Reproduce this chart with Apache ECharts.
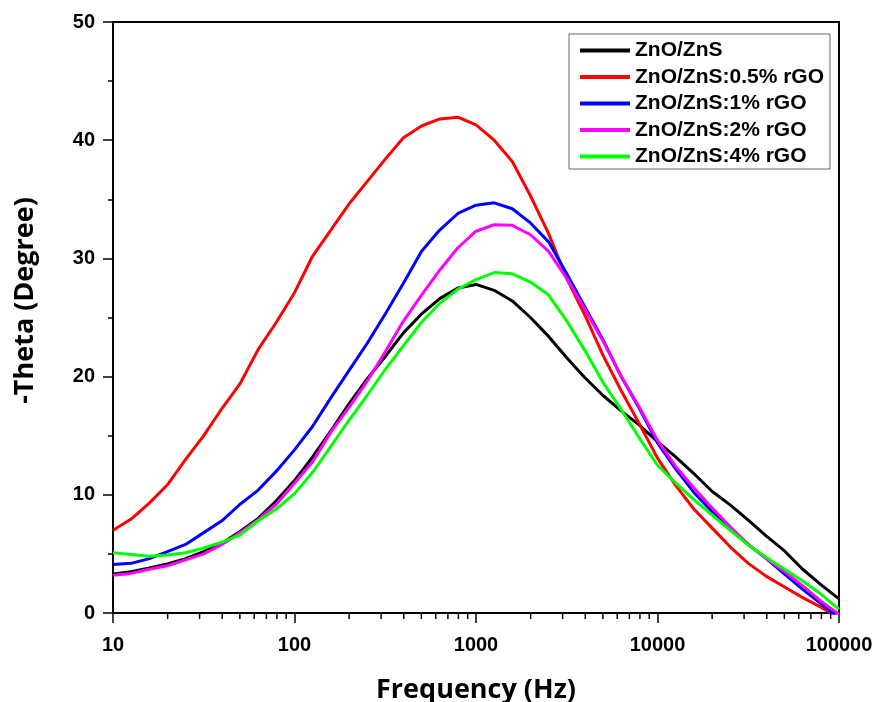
<!DOCTYPE html>
<html>
<head>
<meta charset="utf-8">
<script src="https://cdn.jsdelivr.net/npm/echarts@6/dist/echarts.min.js"></script>
<style>
html,body{margin:0;padding:0;background:#fff;}
#chart{width:877px;height:702px;}
</style>
</head>
<body>
<div id="chart"></div>
<script>
const seriesNames = ['ZnO/ZnS', 'ZnO/ZnS:0.5% rGO', 'ZnO/ZnS:1% rGO', 'ZnO/ZnS:2% rGO', 'ZnO/ZnS:4% rGO'];
const frequency = [10, 12.59, 15.85, 19.95, 25.12, 31.62, 39.81, 50.12, 63.1, 79.43,
  100, 125.9, 158.5, 199.5, 251.2, 316.2, 398.1, 501.2, 631, 794.3,
  1000, 1259, 1585, 1995, 2512, 3162, 3981, 5012, 6310, 7943,
  10000, 12589, 15849, 19953, 25119, 31623, 39811, 50119, 63096, 79433, 100000];
const znoZns = [3.3, 3.5, 3.8, 4.15, 4.6, 5.2, 5.9, 6.9, 8.0, 9.5,
  11.2, 13.2, 15.4, 17.7, 19.8, 21.7, 23.7, 25.3, 26.6, 27.5,
  27.8, 27.3, 26.4, 25.0, 23.4, 21.6, 19.9, 18.4, 17.1, 15.9,
  14.5, 13.2, 11.8, 10.3, 9.15, 7.85, 6.5, 5.25, 3.7, 2.4, 1.2];
const rgo05 = [7.0, 7.95, 9.3, 10.85, 13.0, 15.0, 17.3, 19.4, 22.3, 24.6,
  27.1, 30.2, 32.4, 34.6, 36.5, 38.4, 40.2, 41.2, 41.8, 41.95,
  41.3, 40.0, 38.2, 35.3, 32.1, 28.3, 25.2, 21.8, 18.8, 16.0,
  13.1, 10.8, 8.8, 7.2, 5.6, 4.2, 3.1, 2.2, 1.3, 0.5, -0.4];
const rgo1 = [4.1, 4.2, 4.6, 5.2, 5.8, 6.8, 7.8, 9.2, 10.4, 12.0,
  13.8, 15.8, 18.2, 20.5, 22.8, 25.3, 27.9, 30.6, 32.4, 33.8,
  34.5, 34.7, 34.2, 33.0, 31.4, 28.7, 25.9, 23.1, 20.0, 17.3,
  14.4, 12.2, 10.2, 8.6, 7.2, 5.8, 4.6, 3.3, 2.0, 0.8, -0.4];
const rgo2 = [3.2, 3.35, 3.7, 4.0, 4.5, 5.0, 5.8, 6.8, 7.9, 9.2,
  11.0, 12.8, 15.3, 17.4, 19.6, 22.1, 24.7, 26.9, 29.0, 30.9,
  32.3, 32.85, 32.8, 32.0, 30.6, 28.3, 25.7, 23.0, 20.0, 17.4,
  14.6, 12.4, 10.6, 8.9, 7.3, 5.8, 4.6, 3.5, 2.3, 1.0, -0.1];
const rgo4 = [5.1, 4.95, 4.8, 4.9, 5.1, 5.5, 6.0, 6.6, 7.8, 8.8,
  10.1, 11.9, 14.1, 16.3, 18.4, 20.6, 22.6, 24.6, 26.2, 27.4,
  28.2, 28.8, 28.7, 28.0, 26.9, 24.7, 22.2, 19.5, 17.2, 14.8,
  12.5, 11.0, 9.6, 8.3, 7.0, 5.75, 4.7, 3.7, 2.7, 1.6, 0.3];
const xTickLabels = ['10', '100', '1000', '10000', '100000'];
const yTickLabels = ['0', '10', '20', '30', '40', '50'];
const minorMultipliers = [2, 3, 4, 5, 6, 7, 8, 9];
const decades = [10, 100, 1000, 10000];

const allValues = [znoZns, rgo05, rgo1, rgo2, rgo4];
const colors = ['#000000', '#ff0000', '#0000ff', '#ff00ff', '#00ff00'];

const minorTickValues = [];
decades.forEach(function (d) { minorMultipliers.forEach(function (m) { minorTickValues.push(d * m); }); });

const labelFont = {color: '#000', fontWeight: 'bold', fontSize: 20, fontFamily: 'Liberation Sans, Arial, sans-serif'};
const titleFont = {color: '#000', fontWeight: 'bold', fontSize: 27, fontFamily: 'Open Sans, sans-serif'};

const chart = echarts.init(document.getElementById('chart'), null, {renderer: 'canvas'});
const lineSeries = seriesNames.map(function (name, i) {
  return {
    name: name, type: 'line', showSymbol: false, symbol: 'none', smooth: false,
    clip: true,
    lineStyle: {color: colors[i], width: 3},
    itemStyle: {color: colors[i]},
    data: frequency.map(function (f, j) { return [f, allValues[i][j]]; })
  };
});
lineSeries.push({
  name: 'minorTicks', type: 'scatter', clip: false, silent: true, z: 5,
  symbol: 'rect', symbolSize: [1.5, 6], symbolOffset: [0, 3],
  itemStyle: {color: '#000', opacity: 1},
  emphasis: {disabled: true},
  data: minorTickValues.map(function (v) { return [v, 0]; })
});

chart.setOption({
  animation: false,
  backgroundColor: '#fff',
  grid: {left: 113, right: 38, top: 22, bottom: 89, outerBoundsMode: 'none', containLabel: false,
    show: true, borderColor: '#000', borderWidth: 2, backgroundColor: 'transparent'},
  legend: {
    data: seriesNames,
    orient: 'vertical',
    left: 569, top: 34,
    padding: [6, 6, 2, 11],
    itemWidth: 50, itemHeight: 4, itemGap: 5.5,
    icon: 'rect',
    borderColor: '#666', borderWidth: 1,
    textStyle: Object.assign({}, labelFont, {fontSize: 21}),
    itemStyle: {borderWidth: 0}
  },
  xAxis: {
    type: 'log', logBase: 10, min: 10, max: 100000,
    name: 'Frequency (Hz)', nameLocation: 'middle', nameGap: 64,
    nameTextStyle: titleFont,
    axisLine: {show: true, onZero: false, lineStyle: {color: '#000', width: 2}},
    axisTick: {show: true, length: 10, lineStyle: {color: '#000', width: 1.5}},
    minorTick: {show: false},
    axisLabel: Object.assign({}, labelFont, {margin: 22, formatter: function (v) {
      const s = String(Math.round(v));
      return xTickLabels.indexOf(s) >= 0 ? s : '';
    }}),
    splitLine: {show: false}, minorSplitLine: {show: false}
  },
  yAxis: {
    type: 'value', min: 0, max: 50, interval: 10,
    name: '-Theta (Degree)', nameLocation: 'middle', nameGap: 74,
    nameTextStyle: Object.assign({}, titleFont, {padding: [0, 0, 0, 34]}),
    axisLine: {show: true, lineStyle: {color: '#000', width: 2}},
    axisTick: {show: true, length: 10, lineStyle: {color: '#000', width: 1.5}},
    minorTick: {show: true, splitNumber: 2, length: 5, lineStyle: {color: '#000', width: 1.5}},
    axisLabel: Object.assign({}, labelFont, {margin: 18, formatter: function (v) {
      const s = String(Math.round(v));
      return yTickLabels.indexOf(s) >= 0 ? s : '';
    }}),
    splitLine: {show: false}
  },
  series: lineSeries
});
</script>
</body>
</html>
